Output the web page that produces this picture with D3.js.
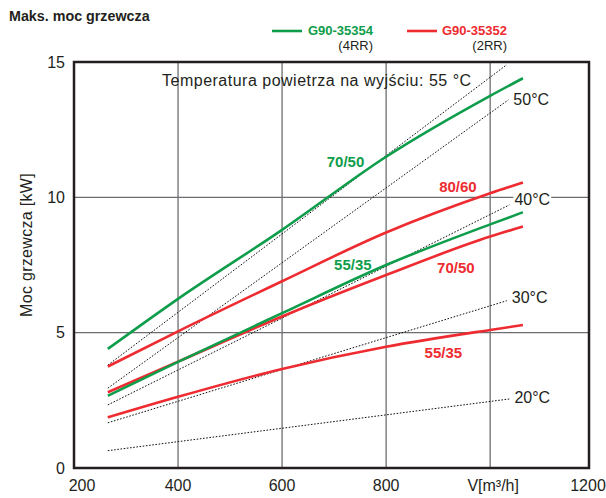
<!DOCTYPE html>
<html><head><meta charset="utf-8">
<script src="https://cdn.jsdelivr.net/npm/d3@7"></script>
<style>
html,body{margin:0;padding:0;background:#fff;}
svg{display:block;font-family:"Liberation Sans",Arial,Helvetica,sans-serif;}
</style></head>
<body>
<script>
// ---- data ----
const flow = [265, 400, 600, 800, 1000, 1063];
const g7050 = [4.4, 6.25, 8.8, 11.5, 13.75, 14.4];
const g5535 = [2.67, 3.92, 5.72, 7.5, 9.0, 9.45];
const r8060 = [3.75, 5.05, 6.9, 8.7, 10.15, 10.55];
const r7050 = [2.8, 3.93, 5.6, 7.13, 8.55, 8.92];
const r5535 = [1.87, 2.63, 3.66, 4.48, 5.1, 5.28];
const tempLabels = ["", "50°C", "40°C", "30°C", "20°C"];
const tempStart = [[265, 3.8], [265, 2.95], [265, 2.33], [265, 1.67], [265, 0.64]];
const tempEnd = [[1032, 14.9], [1035, 13.6], [1037, 9.72], [1032, 6.18], [1037, 2.55]];
const xTicks = [200, 400, 600, 800, 1000, 1200];
const xTickLabels = ["200", "400", "600", "800", "V[m³/h]", "1200"];
const yTicks = [0, 5, 10, 15];

const W = 606, H = 498;
const GREEN = "#0e9d4a", RED = "#ee2b30", INK = "#231f20";
const svg = d3.select("body").append("svg").attr("width", W).attr("height", H);

const pL = 74, pR = 589, pT = 62, pB = 468;
const x = d3.scaleLinear().domain([200, 1190]).range([pL, pR]);
const y = d3.scaleLinear().domain([0, 15]).range([pB, pT]);

// grid
const g = svg.append("g");
g.selectAll(".vg").data([400, 600, 800, 1000]).enter().append("line")
  .attr("x1", d => x(d)).attr("x2", d => x(d)).attr("y1", pT).attr("y2", pB)
  .attr("stroke", "#6d6e71").attr("stroke-width", 1.3);
g.selectAll(".hg").data([5, 10]).enter().append("line")
  .attr("y1", d => y(d)).attr("y2", d => y(d)).attr("x1", pL).attr("x2", pR)
  .attr("stroke", "#6d6e71").attr("stroke-width", 1.3);

// temperature lines (dotted)
const tl = tempStart.map((s, i) => [s, tempEnd[i]]);
svg.selectAll(".tline").data(tl).enter().append("line")
  .attr("x1", d => x(d[0][0])).attr("y1", d => y(d[0][1]))
  .attr("x2", d => x(d[1][0])).attr("y2", d => y(d[1][1]))
  .attr("stroke", "#111").attr("stroke-width", 1).attr("stroke-dasharray", "1.6,1.6");

// temp labels with white background
const labelShift = [0, 0, -6, -3, -2];
tempLabels.forEach((t, i) => {
  if (!t) return;
  const e = tempEnd[i];
  const tx = x(e[0]) + 5, ty = y(e[1]) + labelShift[i];
  const txt = svg.append("text").attr("x", tx).attr("y", ty).attr("dy", "0.35em")
    .attr("font-size", 16).attr("fill", INK).text(t);
  const bb = txt.node().getBBox();
  svg.insert("rect", "text").attr("x", bb.x - 1).attr("y", bb.y + 2).attr("width", bb.width + 2)
    .attr("height", bb.height - 4).attr("fill", "#fff");
});

// curves
const line = d3.line().x((d, i) => x(flow[i])).y(d => y(d)).curve(d3.curveMonotoneX);
const curves = [[g7050, GREEN], [r8060, RED], [r7050, RED], [g5535, GREEN], [r5535, RED]];
curves.forEach(([vals, c]) => {
  svg.append("path").datum(vals).attr("d", line).attr("fill", "none")
    .attr("stroke", c).attr("stroke-width", 2.6);
});

// curve labels
const cl = [["70/50", GREEN, 722, 11.3], ["80/60", RED, 938, 10.39], ["55/35", GREEN, 736, 7.5],
            ["70/50", RED, 934, 7.38], ["55/35", RED, 910, 4.26]];
cl.forEach(([t, c, vx, vy]) => {
  svg.append("text").attr("x", x(vx)).attr("y", y(vy)).attr("dy", "0.35em")
    .attr("text-anchor", "middle").attr("font-size", 15).attr("font-weight", "bold")
    .attr("fill", c).text(t);
});

// frame
svg.append("rect").attr("x", pL).attr("y", pT).attr("width", pR - pL).attr("height", pB - pT)
  .attr("fill", "none").attr("stroke", INK).attr("stroke-width", 2.5);

// axis tick labels
svg.selectAll(".yt").data(yTicks).enter().append("text")
  .attr("x", 65).attr("y", d => y(d)).attr("dy", "0.35em").attr("text-anchor", "end")
  .attr("font-size", 16).attr("fill", INK).text(d => d);
svg.selectAll(".xt").data(xTicks).enter().append("text")
  .attr("x", (d, i) => i === 0 ? x(d) + 8 : (i === 5 ? 588 : x(d) + (i === 4 ? 3 : 0)))
  .attr("y", 491).attr("text-anchor", "middle")
  .attr("font-size", 16).attr("fill", INK).text((d, i) => xTickLabels[i]);

// y axis title
svg.append("text").attr("transform", `translate(32,245) rotate(-90)`)
  .attr("text-anchor", "middle").attr("font-size", 16).attr("fill", INK)
  .attr("letter-spacing", 0.3).text("Moc grzewcza [kW]");

// inner title
svg.append("text").attr("x", 162).attr("y", 86).attr("font-size", 16).attr("fill", INK)
  .attr("letter-spacing", 0.5).text("Temperatura powietrza na wyjściu: 55 °C");

// chart title
svg.append("text").attr("x", 9).attr("y", 21).attr("font-size", 14.3).attr("font-weight", "bold")
  .attr("fill", INK).text("Maks. moc grzewcza");

// legend
const leg = [["G90-35354", "(4RR)", GREEN, 272, 373], ["G90-35352", "(2RR)", RED, 407, 507]];
leg.forEach(([n, s, c, lx, rx]) => {
  svg.append("line").attr("x1", lx).attr("x2", lx + 30).attr("y1", 31).attr("y2", 31)
    .attr("stroke", c).attr("stroke-width", 2.6);
  svg.append("text").attr("x", rx).attr("y", 35).attr("text-anchor", "end")
    .attr("font-size", 13).attr("font-weight", "bold").attr("fill", c).text(n);
  svg.append("text").attr("x", rx).attr("y", 50).attr("text-anchor", "end")
    .attr("font-size", 13).attr("fill", INK).text(s);
});
</script>
</body></html>
